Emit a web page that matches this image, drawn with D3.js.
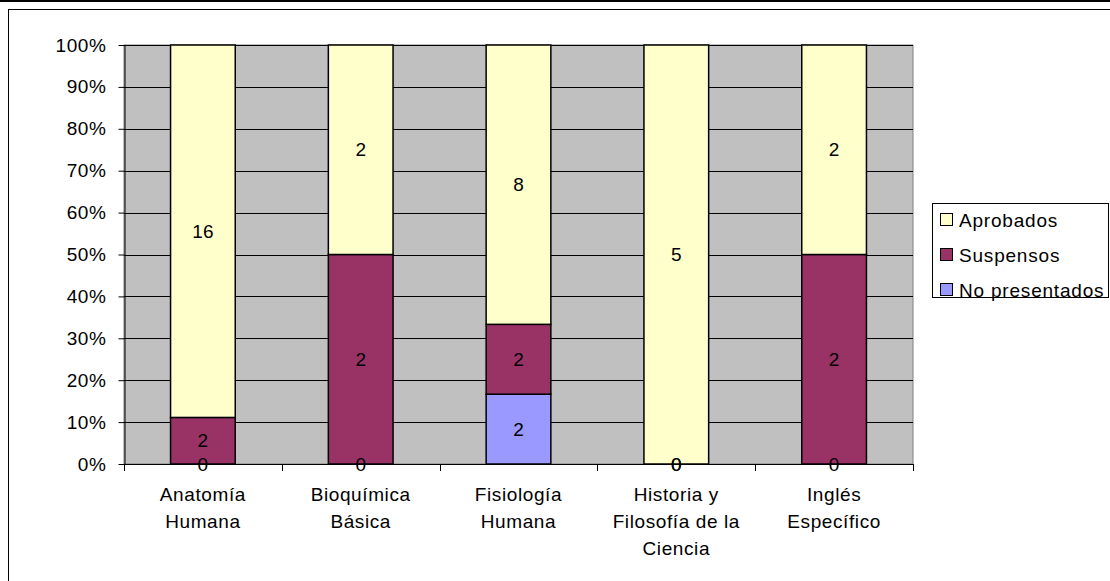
<!DOCTYPE html>
<html>
<head>
<meta charset="utf-8">
<script src="https://cdn.jsdelivr.net/npm/d3@7"></script>
<style>
  html, body { margin: 0; padding: 0; background: #fff; }
  svg { display: block; }
  text { font-family: "Liberation Sans", Arial, sans-serif; fill: #000; }
</style>
</head>
<body>
<svg id="chart" width="1110" height="581"></svg>
<script>
// Subjects (two/three-line category labels)
const categories = [
  ["Anatomía", "Humana"],
  ["Bioquímica", "Básica"],
  ["Fisiología", "Humana"],
  ["Historia y", "Filosofía de la", "Ciencia"],
  ["Inglés", "Específico"]
];
const seriesNames = ["Aprobados", "Suspensos", "No presentados"];
const aprobados     = [16, 2, 8, 5, 2];
const suspensos     = [2, 2, 2, 0, 2];
const noPresentados = [0, 0, 2, 0, 0];
const seriesColors  = ["#FFFFCC", "#993366", "#9999FF"];
const yTicks = [0, 0.1, 0.2, 0.3, 0.4, 0.5, 0.6, 0.7, 0.8, 0.9, 1];

const svg = d3.select("#chart");
const W = 1110, H = 581;
const FONT = "19px";

// chart frame
svg.append("line").attr("x1", 0).attr("x2", W).attr("y1", 1).attr("y2", 1)
  .attr("stroke", "#000").attr("stroke-width", 2);
svg.append("rect").attr("x", 8.5).attr("y", 9.5).attr("width", W).attr("height", H)
  .attr("fill", "#fff").attr("stroke", "#000").attr("stroke-width", 1);

const plot = { left: 124, right: 913, top: 45, bottom: 464 };

const rows = categories.map((c, i) => ({
  key: c.join(" "),
  lines: c,
  "Aprobados": aprobados[i],
  "Suspensos": suspensos[i],
  "No presentados": noPresentados[i]
}));

const x = d3.scaleBand()
  .domain(rows.map(d => d.key))
  .range([plot.left, plot.right])
  .paddingInner(0.59).paddingOuter(0.295);

const y = d3.scaleLinear().domain([0, 1]).range([plot.bottom, plot.top]);

// plot area background
svg.append("rect")
  .attr("x", plot.left).attr("y", plot.top)
  .attr("width", plot.right - plot.left).attr("height", plot.bottom - plot.top)
  .attr("fill", "#C0C0C0").attr("stroke", "#808080").attr("stroke-width", 1);

// horizontal gridlines
svg.append("g").selectAll("line").data(yTicks.slice(1)).join("line")
  .attr("x1", plot.left).attr("x2", plot.right)
  .attr("y1", d => Math.round(y(d)) + 0.5).attr("y2", d => Math.round(y(d)) + 0.5)
  .attr("stroke", "#000").attr("stroke-width", 1);

// stacked 100% columns (bottom to top: No presentados, Suspensos, Aprobados)
const stackOrder = ["No presentados", "Suspensos", "Aprobados"];
const stacked = d3.stack().keys(stackOrder).offset(d3.stackOffsetExpand)(rows);
const colorOf = d3.scaleOrdinal().domain(seriesNames).range(seriesColors);

const layers = svg.append("g").selectAll("g").data(stacked).join("g")
  .attr("fill", d => colorOf(d.key));
layers.selectAll("rect").data(d => d).join("rect")
  .attr("x", d => x(d.data.key))
  .attr("width", x.bandwidth())
  .attr("y", d => y(d[1]))
  .attr("height", d => y(d[0]) - y(d[1]))
  .attr("stroke", "#000").attr("stroke-width", 1.5);

// value labels at the middle of each segment
const labels = svg.append("g");
stacked.forEach(layer => {
  layer.forEach(d => {
    labels.append("text")
      .attr("x", x(d.data.key) + x.bandwidth() / 2)
      .attr("y", y((d[0] + d[1]) / 2))
      .attr("dy", "0.35em")
      .attr("text-anchor", "middle")
      .style("font-size", FONT)
      .text(d.data[layer.key]);
  });
});

// y axis
const yAxis = d3.axisLeft(y).tickValues(yTicks).tickFormat(d3.format(".0%"))
  .tickSizeInner(6).tickSizeOuter(0).tickPadding(12);
const gy = svg.append("g").attr("transform", `translate(${plot.left + 0.5},0)`).call(yAxis);
gy.select(".domain").attr("stroke", "#000");
gy.selectAll(".tick line").attr("stroke", "#000");
gy.selectAll("text").style("font-size", FONT).style("font-family", "Liberation Sans, Arial, sans-serif")
  .attr("fill", "#000").style("letter-spacing", "0.6px");

// x axis baseline and ticks between categories
svg.append("line").attr("x1", plot.left).attr("x2", plot.right)
  .attr("y1", plot.bottom + 0.5).attr("y2", plot.bottom + 0.5).attr("stroke", "#000");
const bounds = d3.range(rows.length + 1).map(i => plot.left + i * (plot.right - plot.left) / rows.length);
svg.append("g").selectAll("line").data(bounds).join("line")
  .attr("x1", d => Math.round(d) + 0.5).attr("x2", d => Math.round(d) + 0.5)
  .attr("y1", plot.bottom).attr("y2", plot.bottom + 7)
  .attr("stroke", "#000");

// category labels
const cat = svg.append("g").selectAll("text").data(rows).join("text")
  .attr("x", d => x(d.key) + x.bandwidth() / 2)
  .attr("y", 501)
  .attr("text-anchor", "middle")
  .style("font-size", FONT).style("letter-spacing", "0.6px");
cat.selectAll("tspan").data(d => d.lines.map((l, i) => ({ l, i, cx: x(d.key) + x.bandwidth() / 2 })))
  .join("tspan")
  .attr("x", d => d.cx)
  .attr("dy", d => d.i === 0 ? 0 : 27)
  .text(d => d.l);

// legend
const legend = svg.append("g");
legend.append("rect").attr("x", 932.5).attr("y", 203.5).attr("width", 176).attr("height", 94)
  .attr("fill", "#fff").attr("stroke", "#000").attr("stroke-width", 1);
const items = legend.selectAll("g").data(seriesNames).join("g")
  .attr("transform", (d, i) => `translate(0,${220 + i * 35})`);
items.append("rect").attr("x", 940.5).attr("y", -6.5).attr("width", 12).attr("height", 12)
  .attr("fill", d => colorOf(d)).attr("stroke", "#000").attr("stroke-width", 1);
items.append("text").attr("x", 959).attr("y", 0).attr("dy", "0.35em")
  .style("font-size", FONT).style("letter-spacing", "0.8px").text(d => d);
</script>
</body>
</html>
